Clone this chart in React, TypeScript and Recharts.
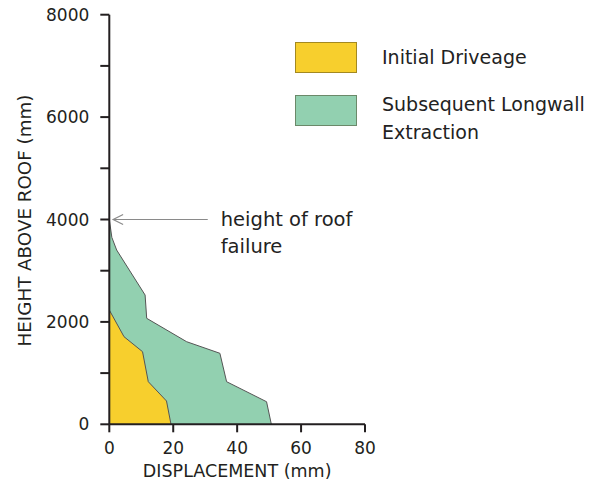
import { ComposedChart, Area, XAxis, YAxis, Legend, ReferenceLine } from 'recharts';

// displacement axis (mm) and height axis (mm)
const displacementTicks = [0, 20, 40, 60, 80];
const heightTicks = [0, 1000, 2000, 3000, 4000, 5000, 6000, 7000, 8000];

// Initial driveage profile: height above roof vs displacement
const driveageHeights = [0, 455, 832, 1418, 1711, 2232];
const driveageDisp = [19.3, 17.9, 12.2, 10.4, 4.6, 0];

// Subsequent longwall extraction profile
const longwallHeights = [0, 441, 832, 1387, 1613, 2070, 2525, 3404, 3650, 4000];
const longwallDisp = [50.7, 49.2, 36.7, 34.6, 24.2, 11.7, 11.2, 2.3, 0.8, 0];

const seriesNames = ['Initial Driveage', 'Subsequent Longwall Extraction'];
const seriesColors = ['#F7CF2D', '#92D0B0'];

// annotation arrow
const failureHeight = 4000;
const arrowFrom = 30.8;
const arrowTo = 1.2;
const failureText = ['height of roof', 'failure'];

const FONT = "'DejaVu Sans', Verdana, sans-serif";
const INK = '#231f20';

const rows = new Map<number, any>();
driveageHeights.forEach((h, i) => {
  const r = rows.get(h) ?? { h, driveage: null, longwall: null };
  r.driveage = driveageDisp[i];
  rows.set(h, r);
});
longwallHeights.forEach((h, i) => {
  const r = rows.get(h) ?? { h, driveage: null, longwall: null };
  r.longwall = longwallDisp[i];
  rows.set(h, r);
});
const data = [...rows.values()].sort((a, b) => a.h - b.h);

const LegendBlock = () => (
  <div style={{ position: 'relative', width: 320, height: 110, fontFamily: FONT }}>
    {seriesNames.map((name, i) => (
      <div key={name} style={{ position: 'absolute', left: 0, top: i * 53.3, display: 'flex', alignItems: 'flex-start' }}>
        <div
          style={{
            width: 60,
            height: 29,
            background: seriesColors[i],
            border: '1px solid rgba(60,50,20,0.45)',
            flex: 'none',
          }}
        />
        <div
          style={{
            marginLeft: 25,
            marginTop: i === 0 ? 1 : -5,
            width: 215,
            fontSize: 19,
            lineHeight: '28px',
            color: '#222',
          }}
        >
          {name}
        </div>
      </div>
    ))}
  </div>
);

const FailureArrow = (props: any) => {
  const { x1, y1, x2, y2 } = props;
  const tipX = Math.min(x1, x2);
  const endX = Math.max(x1, x2);
  const y = y1 ?? y2;
  return (
    <g>
      <line x1={tipX} y1={y} x2={endX} y2={y} stroke="#8a8a8a" strokeWidth={1.2} />
      <path d={`M${tipX + 10},${y - 5} L${tipX},${y} L${tipX + 10},${y + 5}`} fill="none" stroke="#8a8a8a" strokeWidth={1.2} />
      <text x={endX + 13} y={y + 6} fontFamily={FONT} fontSize={19.5} fill="#222">
        {failureText[0]}
      </text>
      <text x={endX + 13} y={y + 33} fontFamily={FONT} fontSize={19.5} fill="#222">
        {failureText[1]}
      </text>
    </g>
  );
};

export default function App() {
  return (
    <div style={{ position: 'absolute', left: 0, top: 0, width: 614, height: 486, background: '#fff' }}>
      <ComposedChart
        width={614}
        height={486}
        data={data}
        layout="vertical"
        margin={{ top: 14.7, right: 249, bottom: 5.7, left: 0 }}
      >
        <XAxis
          type="number"
          domain={[0, 80]}
          ticks={displacementTicks}
          height={56}
          tickSize={8}
          tickMargin={10}
          axisLine={{ stroke: INK, strokeWidth: 2 }}
          tickLine={{ stroke: INK, strokeWidth: 2 }}
          tick={{ fontFamily: FONT, fontSize: 17, fill: INK }}
          label={{
            value: 'DISPLACEMENT (mm)',
            position: 'insideBottom',
            offset: 3,
            style: { fontFamily: FONT, fontSize: 17.5, fill: INK },
          }}
        />
        <YAxis
          type="number"
          dataKey="h"
          domain={[0, 8000]}
          ticks={heightTicks}
          reversed
          width={109.3}
          tickSize={9}
          tickMargin={11}
          interval={0}
          tickFormatter={(v: number) => (v % 2000 === 0 ? String(v) : '')}
          axisLine={{ stroke: INK, strokeWidth: 2 }}
          tickLine={{ stroke: INK, strokeWidth: 2 }}
          tick={{ fontFamily: FONT, fontSize: 17, fill: INK }}
          label={{
            value: 'HEIGHT ABOVE ROOF (mm)',
            angle: -90,
            position: 'insideLeft',
            offset: 25,
            dy: 1,
            style: { fontFamily: FONT, fontSize: 18.3, fill: INK, textAnchor: 'middle' },
          }}
        />
        <Legend
          layout="horizontal"
          align="center"
          verticalAlign="middle"
          wrapperStyle={{ left: 295, top: 41.7, width: 320, height: 110 }}
          content={() => <LegendBlock />}
        />
        <Area
          dataKey="longwall"
          name={seriesNames[1]}
          type="linear"
          fill={seriesColors[1]}
          fillOpacity={1}
          stroke="#555"
          strokeWidth={1}
          connectNulls
          isAnimationActive={false}
        />
        <Area
          dataKey="driveage"
          name={seriesNames[0]}
          type="linear"
          fill={seriesColors[0]}
          fillOpacity={1}
          stroke="#555"
          strokeWidth={1}
          connectNulls
          isAnimationActive={false}
        />
        <ReferenceLine
          segment={[
            { x: arrowTo, y: failureHeight },
            { x: arrowFrom, y: failureHeight },
          ]}
          ifOverflow="visible"
          shape={FailureArrow}
        />
      </ComposedChart>
    </div>
  );
}
